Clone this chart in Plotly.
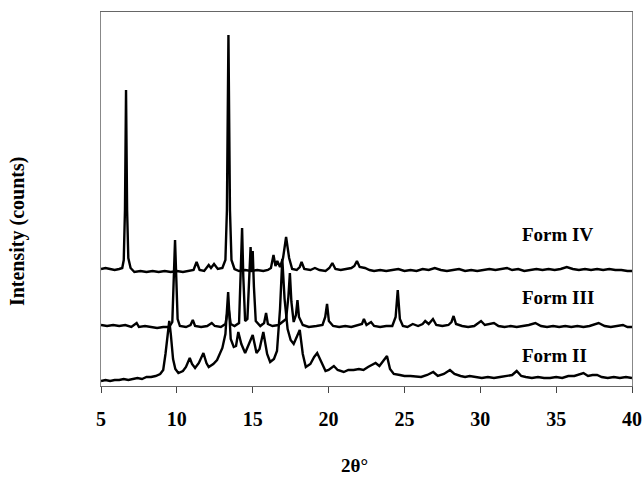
import plotly.graph_objects as go

# 2-theta positions (degrees) and intensities (a.u., height above each pattern's own baseline)
form4_2theta = [5.0, 5.3, 5.6, 5.9, 6.2, 6.4, 6.5, 6.58, 6.65, 6.72, 6.8, 6.95, 7.2, 7.6, 8.0, 8.4, 8.8, 9.2, 9.6,
                10.0, 10.4, 10.8, 11.1, 11.3, 11.5, 11.8, 12.1, 12.25, 12.45, 12.7, 13.0, 13.2, 13.3, 13.4, 13.5,
                13.6, 13.8, 14.1, 14.5, 14.9, 15.3, 15.7, 16.0, 16.2, 16.37, 16.5, 16.62, 16.8, 17.0, 17.2, 17.4,
                17.6, 17.9, 18.1, 18.22, 18.4, 18.8, 19.1, 19.4, 19.8, 20.05, 20.25, 20.45, 20.8, 21.2, 21.5, 21.7,
                21.87, 22.05, 22.4, 22.7, 23.0, 23.4, 23.8, 24.2, 24.6, 25.0, 25.4, 25.8, 26.2, 26.6, 27.0, 27.4,
                27.8, 28.2, 28.6, 29.0, 29.4, 29.8, 30.2, 30.6, 31.0, 31.4, 31.76, 32.1, 32.5, 32.9, 33.3, 33.7,
                34.1, 34.5, 34.9, 35.3, 35.7, 36.1, 36.5, 36.9, 37.3, 37.7, 38.1, 38.5, 38.9, 39.3, 39.7, 40.0]
form4_int = [1, 2, 1, 0, 1, 2, 10, 60, 180, 60, 12, 2, -2, -1, -2, -1, -2, -1, -2,
             -1, -2, -1, 0, 8, 0, -1, 5, 2, 6, 1, 2, 10, 60, 235, 60,
             10, 1, -1, 0, -1, 0, -1, 0, 2, 15, 4, 9, 3, 12, 33, 12,
             1, 0, 3, 8, 1, 0, 2, 0, -1, 2, 7, 1, 0, 1, 2, 4,
             9, 3, 2, 0, -1, 0, -1, 0, 1, -1, 0, -1, 1, 0, 2, 0,
             -1, 0, 1, -1, 0, -1, 0, 1, 0, 1, 2, 0, 1, -1, 0, 1,
             0, 1, 0, 1, 3, 1, 0, 1, 0, 1, 0, 1, 0, 0, -1, -1]

form3_2theta = [5.0, 5.4, 5.8, 6.2, 6.6, 7.0, 7.35, 7.5, 7.9, 8.3, 8.7, 9.1, 9.5, 9.7, 9.8, 9.88, 9.96, 10.05, 10.2,
                10.6, 10.9, 11.05, 11.2, 11.6, 12.0, 12.3, 12.5, 12.9, 13.2, 13.4, 13.55, 13.8, 14.1, 14.22, 14.3,
                14.38, 14.5, 14.65, 14.78, 14.86, 14.93, 15.0, 15.08, 15.2, 15.5, 15.75, 15.88, 16.0, 16.3, 16.7,
                17.2, 17.35, 17.45, 17.55, 17.7, 17.85, 17.95, 18.05, 18.3, 18.7, 19.2, 19.6, 19.78, 19.9, 20.02,
                20.3, 20.7, 21.1, 21.5, 21.9, 22.2, 22.33, 22.5, 22.8, 23.0, 23.4, 23.8, 24.2, 24.42, 24.56, 24.7,
                24.9, 25.2, 25.55, 25.9, 26.2, 26.37, 26.6, 26.88, 27.1, 27.5, 27.9, 28.1, 28.24, 28.4, 28.8, 29.2,
                29.6, 30.05, 30.3, 30.66, 30.9, 31.2, 31.6, 32.0, 32.4, 32.8, 33.2, 33.63, 34.0, 34.4, 34.8, 35.2,
                35.6, 36.0, 36.4, 36.8, 37.2, 37.8, 38.2, 38.6, 39.0, 39.4, 39.7, 40.0]
form3_int = [2, 1, 2, 1, 2, 0, 4, 0, 1, 0, -1, 0, 0, 5, 50, 87, 50, 8, 1,
             0, 2, 7, 1, 0, 1, 4, 1, 0, 3, 20, 3, 1, 4, 60, 99,
             50, 6, 8, 50, 80, 55, 76, 40, 6, 1, 4, 14, 3, 1, 2,
             8, 30, 54, 25, 5, 12, 27, 10, 2, 0, 1, 2, 10, 23, 6,
             1, 0, 1, 0, 2, 3, 8, 2, 5, 1, 0, 1, 1, 10, 37, 8,
             1, 0, 3, 1, 3, 6, 3, 8, 2, 1, 2, 5, 11, 3, 1, 0,
             1, 6, 2, 3, 4, 1, 0, 1, 0, 1, 2, 4, 1, 0, 1, 0,
             1, 0, 1, 0, 1, 4, 1, 0, 1, 2, 0, 0]

form2_2theta = [5.0, 5.3, 5.6, 5.9, 6.2, 6.5, 6.8, 7.1, 7.4, 7.7, 8.0, 8.3, 8.6, 8.9, 9.1, 9.25, 9.4, 9.5, 9.6,
                9.75, 9.9, 10.1, 10.4, 10.6, 10.85, 11.0, 11.2, 11.45, 11.75, 11.95, 12.1, 12.4, 12.65, 12.85,
                13.0, 13.2, 13.38, 13.55, 13.75, 13.9, 14.05, 14.25, 14.5, 14.75, 15.0, 15.25, 15.45, 15.7, 15.95,
                16.15, 16.4, 16.6, 16.8, 16.95, 17.1, 17.3, 17.5, 17.7, 17.9, 18.1, 18.3, 18.5, 18.8, 19.05, 19.25,
                19.5, 19.8, 20.0, 20.35, 20.6, 21.0, 21.3, 21.65, 22.0, 22.3, 22.6, 22.9, 23.1, 23.35, 23.6, 23.85,
                24.05, 24.3, 24.7, 25.0, 25.4, 25.8, 26.1, 26.5, 26.9, 27.2, 27.6, 28.0, 28.3, 28.7, 29.0, 29.3,
                29.7, 30.1, 30.5, 30.9, 31.3, 31.7, 32.1, 32.4, 32.7, 33.0, 33.4, 33.8, 34.2, 34.6, 35.0, 35.4,
                35.8, 36.2, 36.6, 36.8, 37.1, 37.4, 37.7, 38.0, 38.4, 38.8, 39.2, 39.6, 40.0]
form2_int = [-2, -1, -2, -1, -1, 0, -1, 0, 1, 0, 2, 2, 3, 5, 9, 25, 45, 58, 45,
             20, 10, 6, 8, 12, 21, 15, 11, 16, 26, 16, 12, 15, 19, 27,
             31, 45, 87, 40, 32, 33, 47, 35, 26, 35, 44, 26, 30, 47, 25,
             17, 20, 28, 70, 120, 80, 50, 39, 35, 42, 49, 25, 12, 15, 22, 26,
             18, 8, 9, 13, 9, 7, 9, 9, 10, 9, 12, 14, 16, 13, 18, 23,
             10, 5, 4, 3, 3, 2, 2, 4, 7, 3, 5, 9, 5, 3, 2, 3,
             2, 1, 2, 1, 2, 3, 4, 8, 3, 2, 1, 2, 1, 1, 2, 1,
             3, 3, 5, 6, 3, 4, 4, 2, 1, 2, 1, 2, 1]

form_names = ["Form IV", "Form III", "Form II"]
form_offsets = [116, 59, 7]          # vertical stacking offsets of the patterns
label_2theta = [32.65, 32.65, 32.65] # where the labels start
label_height = [36, 30, 24]          # label height above each pattern's offset

x_ticks = [5, 10, 15, 20, 25, 30, 35, 40]

series = [(form4_2theta, form4_int), (form3_2theta, form3_int), (form2_2theta, form2_int)]

fig = go.Figure()
for (xs, ys), off, name in zip(series, form_offsets, form_names):
    fig.add_trace(go.Scatter(x=xs, y=[v + off for v in ys], mode="lines", name=name,
                             line=dict(color="black", width=2.4), showlegend=False))

serif = "Liberation Serif, Times New Roman, serif"
for name, lx, lh, off in zip(form_names, label_2theta, label_height, form_offsets):
    fig.add_annotation(x=lx, y=off + lh, text="<b>" + name + "</b>", showarrow=False,
                       xanchor="left", yanchor="middle", font=dict(family=serif, size=19, color="black"))

fig.add_annotation(xref="paper", yref="paper", x=-0.156, y=0.412, text="<b>Intensity (counts)</b>",
                   textangle=-90, showarrow=False, xanchor="center", yanchor="middle",
                   font=dict(family=serif, size=20, color="black"))
fig.add_annotation(xref="paper", yref="paper", x=0.478, y=-0.212, text="<b>2θ°</b>",
                   showarrow=False, xanchor="center", yanchor="middle",
                   font=dict(family=serif, size=19, color="black"))

fig.update_layout(
    width=644, height=478,
    margin=dict(l=101, r=12, t=12, b=92),
    paper_bgcolor="white", plot_bgcolor="white",
    xaxis=dict(range=[5, 40], tickvals=x_ticks, ticktext=["<b>%d</b>" % t for t in x_ticks],
               ticks="outside", ticklen=6, tickcolor="#444", tickwidth=1, ticklabelstandoff=9,
               showline=True, linecolor="#666", linewidth=1, mirror=True,
               showgrid=False, zeroline=False, automargin=False,
               tickfont=dict(family=serif, size=20, color="black")),
    yaxis=dict(range=[0, 374], showticklabels=False, ticks="", showgrid=False, zeroline=False,
               showline=True, linecolor="#888", linewidth=1, mirror=True, automargin=False),
)

fig.write_html("out.html")
